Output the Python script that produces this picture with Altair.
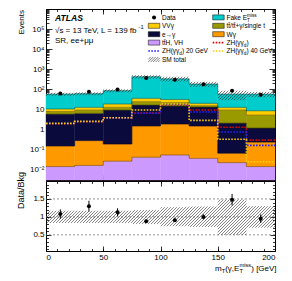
import math
import re
import altair as alt
import pandas as pd

# ---------------- values ----------------
bin_edges = [0, 25, 50, 75, 100, 125, 150, 175, 200]

tth_vh     = [0.014, 0.016, 0.026, 0.041, 0.053, 0.036, 0.022, 0.014]
w_gamma    = [0.135, 0.26, 0.16, 1.44, 1.8, 1.44, 0.043, 0.22]
e_to_gamma = [5.65, 6.0, 9.0, 14.9, 12.8, 11.6, 2.0, 0.94]
tt_gamma   = [2.0, 2.9, 3.4, 7.6, 6.8, 2.0, 7.1, 4.0]
vv_gamma   = [2.6, 3.4, 5.8, 11.5, 9.6, 4.8, 3.4, 3.3]
fake_met   = [46.6, 47.4, 66.6, 385.0, 299.0, 162.0, 44.4, 48.5]

data_obs = [62, 76, 97, 362, 300, 180, 84, 53]
data_err = [8, 9, 10, 19, 17, 13, 9, 7]

sig_zh   = [1.9, 2.4, 3.7, 6.6, 17.0, 9.2, 1.27, 0.29]
sig_zh20 = [1.95, 2.45, 3.75, 6.4, 17.5, 7.3, 0.74, 0.16]
sig_zh40 = [2.0, 2.5, 3.8, 9.2, 18.5, 2.8, 0.32, 0.024]

ratio_val = [1.08, 1.30, 1.13, 0.88, 0.91, 1.00, 1.48, 0.95]
ratio_err = [0.13, 0.15, 0.11, 0.05, 0.05, 0.07, 0.16, 0.12]
band_lo   = [0.83, 0.83, 0.83, 0.80, 0.74, 0.72, 0.50, 0.70]
band_hi   = [1.17, 1.17, 1.17, 1.19, 1.27, 1.29, 1.48, 1.30]

comp_names  = ["tt̄H, VH", "Wγ", "e→γ", "tt̄/tt̄+γ/single t", "VVγ", "Fake E_{T}^{miss}"]
comp_colors = ["#CC99FF", "#FF9900", "#0A0A3C", "#999900", "#FFCC00", "#00CCCC"]

y_tick_values = [1e-2, 1e-1, 1.0, 10.0, 1e2, 1e3, 1e4, 1e5]
y_tick_labels = ["10⁻²", "10⁻¹", "1", "10", "10²", "10³", "10⁴", "10⁵"]
r_tick_values = [0.5, 1.0, 1.5]
r_tick_labels = ["0.5", "1", "1.5"]
x_tick_values = [0, 50, 100, 150, 200]

# ---------------- layout ----------------
FONT = "Liberation Sans"
W, H = 229, 242
UP_H, R_TOP = 171, 172
Y_MIN, Y_MAX = 0.003, 1e6
R_MIN, R_MAX = 0.05, 2.0
NB = len(bin_edges) - 1

XS = alt.Scale(domain=[0, 200], range=[0, W], nice=False, zero=False)
YU = alt.Scale(type="log", domain=[Y_MIN, Y_MAX], range=[UP_H, 0], nice=False)
YR = alt.Scale(domain=[R_MIN, R_MAX], range=[H, R_TOP], nice=False, zero=False)

dummy = pd.DataFrame({"v": [1.0]})
dummy_x = pd.DataFrame({"v": [100.0]})

layers = []

# ---------------- stacked backgrounds ----------------
comps = [tth_vh, w_gamma, e_to_gamma, tt_gamma, vv_gamma, fake_met]
rows, step_rows = [], []
cum = [0.0] * NB
for k, (name, vals) in enumerate(zip(comp_names, comps)):
    tops = []
    for i in range(NB):
        lo = cum[i]
        hi = lo + vals[i]
        rows.append(dict(comp=name, x0=bin_edges[i], x1=bin_edges[i + 1],
                         lo=max(lo, Y_MIN), hi=hi))
        cum[i] = hi
        tops.append(hi)
    for i in range(NB + 1):
        step_rows.append(dict(comp=name, x=bin_edges[i], v=tops[min(i, NB - 1)]))
total = cum[:]

stack_df = pd.DataFrame(rows)
cscale = alt.Scale(domain=comp_names, range=comp_colors)
layers.append(alt.Chart(stack_df).mark_rect(strokeWidth=0.4).encode(
    x=alt.X("x0:Q", scale=XS, axis=None), x2="x1:Q",
    y=alt.Y("lo:Q", scale=YU, axis=None), y2="hi:Q",
    color=alt.Color("comp:N", scale=cscale, legend=None),
    stroke=alt.Stroke("comp:N", scale=cscale, legend=None)))
layers.append(alt.Chart(pd.DataFrame(step_rows)).mark_line(
    interpolate="step-after", color="black", strokeWidth=0.6, opacity=0.55).encode(
    x=alt.X("x:Q", scale=XS, axis=None),
    y=alt.Y("v:Q", scale=YU, axis=None), detail="comp:N"))


# ---------------- hatch helper ----------------
def hatch(x_lo, x_hi, v_lo, v_hi, to_px, from_px, step=3.0):
    segs = []
    boxes = []
    for a, b, lo, hi in zip(x_lo, x_hi, v_lo, v_hi):
        boxes.append((a * W / 200.0, b * W / 200.0, to_px(lo), to_px(hi)))
    cmin = min(Y0 - X1 for X0, X1, Y0, Y1 in boxes)
    cmax = max(Y1 - X0 for X0, X1, Y0, Y1 in boxes)
    for k in range(int(math.floor(cmin / step)) - 1, int(math.ceil(cmax / step)) + 2):
        c = k * step
        for X0, X1, Y0, Y1 in boxes:
            xa = max(X0, Y0 - c)
            xb = min(X1, Y1 - c)
            if xb > xa + 0.05:
                segs.append(dict(xa=xa * 200.0 / W, xb=xb * 200.0 / W,
                                 ya=from_px(xa + c), yb=from_px(xb + c)))
    return pd.DataFrame(segs)


LOG_SPAN = math.log10(Y_MAX / Y_MIN)
up_px = lambda v: (math.log10(v) - math.log10(Y_MIN)) * UP_H / LOG_SPAN
up_inv = lambda p: 10 ** (p * LOG_SPAN / UP_H + math.log10(Y_MIN))
r_px = lambda v: (v - R_MIN) * (H - R_TOP) / (R_MAX - R_MIN)
r_inv = lambda p: p * (R_MAX - R_MIN) / (H - R_TOP) + R_MIN

up_band = hatch(bin_edges[:-1], bin_edges[1:],
                [t * l for t, l in zip(total, band_lo)],
                [t * h for t, h in zip(total, band_hi)], up_px, up_inv)
layers.append(alt.Chart(up_band).mark_rule(color="#222", strokeWidth=0.6).encode(
    x=alt.X("xa:Q", scale=XS, axis=None), x2="xb:Q",
    y=alt.Y("ya:Q", scale=YU, axis=None), y2="yb:Q"))

# ---------------- signals ----------------
def step_df(vals):
    return pd.DataFrame({"x": bin_edges, "v": list(vals) + [vals[-1]]})

for vals, col in [(sig_zh, "#E00000"), (sig_zh20, "#2020FF"), (sig_zh40, "#FFCC00")]:
    layers.append(alt.Chart(step_df(vals)).mark_line(
        interpolate="step-after", color=col, strokeWidth=1.6, strokeDash=[1.6, 1.4]).encode(
        x=alt.X("x:Q", scale=XS, axis=None),
        y=alt.Y("v:Q", scale=YU, axis=None)))

# ---------------- data (upper) ----------------
centers = [(a + b) / 2 for a, b in zip(bin_edges[:-1], bin_edges[1:])]
dat_df = pd.DataFrame({"x": centers, "y": data_obs,
                       "lo": [d - e for d, e in zip(data_obs, data_err)],
                       "hi": [d + e for d, e in zip(data_obs, data_err)]})
layers.append(alt.Chart(dat_df).mark_rule(color="black", strokeWidth=1).encode(
    x=alt.X("x:Q", scale=XS, axis=None),
    y=alt.Y("lo:Q", scale=YU, axis=None), y2="hi:Q"))
layers.append(alt.Chart(dat_df).mark_point(filled=True, color="black", size=16, opacity=1).encode(
    x=alt.X("x:Q", scale=XS, axis=None),
    y=alt.Y("y:Q", scale=YU, axis=None)))

# ---------------- ratio panel ----------------
layers.append(alt.Chart(pd.DataFrame({"v": r_tick_values})).mark_rule(
    color="#777", strokeWidth=0.8, strokeDash=[2, 2]).encode(
    y=alt.Y("v:Q", scale=YR, axis=None)))
r_band = hatch(bin_edges[:-1], bin_edges[1:], band_lo, band_hi, r_px, r_inv)
layers.append(alt.Chart(r_band).mark_rule(color="#333", strokeWidth=0.6).encode(
    x=alt.X("xa:Q", scale=XS, axis=None), x2="xb:Q",
    y=alt.Y("ya:Q", scale=YR, axis=None), y2="yb:Q"))
rat_df = pd.DataFrame({"x": centers, "y": ratio_val,
                       "lo": [r - e for r, e in zip(ratio_val, ratio_err)],
                       "hi": [r + e for r, e in zip(ratio_val, ratio_err)]})
layers.append(alt.Chart(rat_df).mark_rule(color="black", strokeWidth=1).encode(
    x=alt.X("x:Q", scale=XS, axis=None),
    y=alt.Y("lo:Q", scale=YR, axis=None), y2="hi:Q"))
layers.append(alt.Chart(rat_df).mark_point(filled=True, color="black", size=16, opacity=1).encode(
    x=alt.X("x:Q", scale=XS, axis=None),
    y=alt.Y("y:Q", scale=YR, axis=None)))

# ---------------- axes (ticks inside, via offset axes) ----------------
def label_expr(vals, labels):
    parts = [f"abs(datum.value / {v!r} - 1) < 0.001 ? '{l}'" for v, l in zip(vals, labels)]
    return " : ".join(parts) + " : ''"

TICK = dict(grid=False, title=None, tickColor="black", tickWidth=0.8,
            domainColor="black", domainWidth=1)


def y_axis(scale, **kw):
    return alt.Chart(dummy).mark_rule(opacity=0).encode(
        y=alt.Y("v:Q", scale=scale, axis=alt.Axis(**TICK, **kw)))


def x_axis(**kw):
    return alt.Chart(dummy_x).mark_rule(opacity=0).encode(
        x=alt.X("v:Q", scale=XS, axis=alt.Axis(**TICK, **kw)))


y_minor = [m * 10.0 ** e for e in range(-3, 6) for m in range(2, 10)
           if Y_MIN <= m * 10.0 ** e <= Y_MAX]
r_minor = [round(0.1 * i, 2) for i in range(1, 20)]
x_minor = list(range(0, 201, 10))

# upper y
layers.append(y_axis(YU, orient="left", values=y_tick_values,
                     labelExpr=label_expr(y_tick_values, y_tick_labels),
                     ticks=False, domain=True, labelFont=FONT, labelFontSize=8,
                     labelColor="black", labelPadding=2))
layers.append(y_axis(YU, orient="right", offset=-W, values=y_tick_values, tickSize=6,
                     labels=False, domain=False))
layers.append(y_axis(YU, orient="right", offset=-W, values=y_minor, tickSize=3,
                     labels=False, domain=False))
layers.append(y_axis(YU, orient="left", offset=-W, values=y_tick_values, tickSize=6,
                     labels=False, domain=True))
layers.append(y_axis(YU, orient="left", offset=-W, values=y_minor, tickSize=3,
                     labels=False, domain=False))
# ratio y
layers.append(y_axis(YR, orient="left", values=r_tick_values,
                     labelExpr=label_expr(r_tick_values, r_tick_labels),
                     ticks=False, domain=True, labelFont=FONT, labelFontSize=8,
                     labelColor="black", labelPadding=2))
layers.append(y_axis(YR, orient="right", offset=-W, values=r_tick_values, tickSize=5,
                     labels=False, domain=False))
layers.append(y_axis(YR, orient="right", offset=-W, values=r_minor, tickSize=2.5,
                     labels=False, domain=False))
layers.append(y_axis(YR, orient="left", offset=-W, values=r_tick_values, tickSize=5,
                     labels=False, domain=True))
layers.append(y_axis(YR, orient="left", offset=-W, values=r_minor, tickSize=2.5,
                     labels=False, domain=False))
# x axes
layers.append(x_axis(orient="bottom", values=x_tick_values, format="d", ticks=False,
                     domain=True, labelFont=FONT, labelFontSize=8, labelColor="black",
                     labelPadding=2))
for orient, off, dom in [("top", -H, False), ("bottom", -(H - R_TOP), True),
                         ("top", -UP_H, True), ("bottom", -H, True)]:
    layers.append(x_axis(orient=orient, offset=off, values=x_tick_values, tickSize=5,
                         labels=False, domain=dom))
    layers.append(x_axis(orient=orient, offset=off, values=x_minor, tickSize=2.5,
                         labels=False, domain=False))

# ---------------- text helpers ----------------
CW = {' ': 0.278, '(': 0.333, ')': 0.333, ',': 0.278, '.': 0.278, '/': 0.278, '[': 0.278,
      ']': 0.278, '+': 0.584, '=': 0.584, '-': 0.333, 'A': 0.667, 'B': 0.667, 'D': 0.722,
      'E': 0.667, 'F': 0.611, 'G': 0.778, 'H': 0.722, 'L': 0.556, 'M': 0.833, 'R': 0.722,
      'S': 0.667, 'T': 0.611, 'V': 0.667, 'W': 0.944, 'Z': 0.611, 'a': 0.556, 'b': 0.556,
      'd': 0.556, 'e': 0.556, 'f': 0.278, 'g': 0.556, 'i': 0.222, 'k': 0.5, 'l': 0.222,
      'm': 0.833, 'n': 0.556, 'o': 0.556, 's': 0.5, 't': 0.278, 'v': 0.5, 'γ': 0.5,
      'μ': 0.576, '→': 1.0, '\u0304': 0.0, '√': 0.549}


def tw(s, size):
    return sum(CW.get(ch, 0.556) for ch in s) * size


def txt(s, x, y, size, **kw):
    props = dict(text=s, align="left", baseline="alphabetic", fontSize=size,
                 font=FONT, color="black")
    props.update(kw)
    return alt.Chart(dummy).mark_text(**props).encode(x=alt.value(x), y=alt.value(y))


def rich(s, x, y, size, **kw):
    toks = []
    for m in re.finditer(r"_\{([^}]*)\}|\^\{([^}]*)\}|[^_^]+", s):
        if m.group(1) is not None:
            toks.append((m.group(1), "sub"))
        elif m.group(2) is not None:
            toks.append((m.group(2), "sup"))
        else:
            toks.append((m.group(0), "norm"))
    out = []
    cx = x
    i = 0
    ss = size * 0.72
    while i < len(toks):
        t, k = toks[i]
        if k == "norm":
            out.append(txt(t, cx, y, size, **kw))
            cx += tw(t, size)
        elif k == "sub" and i + 1 < len(toks) and toks[i + 1][1] == "sup":
            t2 = toks[i + 1][0]
            out.append(txt(t, cx, y + 0.3 * size, ss, **kw))
            out.append(txt(t2, cx, y - 0.45 * size, ss, **kw))
            cx += max(tw(t, ss), tw(t2, ss))
            i += 1
        else:
            out.append(txt(t, cx, y + (0.3 * size if k == "sub" else -0.42 * size), ss, **kw))
            cx += tw(t, ss)
        i += 1
    return out

# ---------------- labels ----------------
layers.append(txt("ATLAS", 9, 11.7, 8.6, fontWeight="bold", fontStyle="italic"))
layers += rich("√s = 13 TeV, L = 139 fb^{-1}", 9, 23.5, 8)
layers.append(txt("SR, ee+μμ", 9, 33.5, 8))

layers.append(txt("Events", -24.5, 1, 8, angle=270, align="right", baseline="middle"))
layers.append(txt("Data/Bkg", -25, 163, 9, angle=270, align="right", baseline="middle"))
layers += rich("m_{T}(γ,E_{T}^{miss}) [GeV]", 169, 261.5, 8)

# ---------------- legend ----------------
leg_col1 = ["Data", "VVγ", "e→γ", "tt̄H, VH", "ZH(γγ_{d}) 20 GeV", "SM total"]
leg_col2 = ["Fake E_{T}^{miss}", "tt̄/tt̄+γ/single t", "Wγ", "ZH(γγ_{d})", "ZH(γγ_{d}) 40 GeV"]
LFS = 6.5
row_y = [8.4 + 8.4 * r for r in range(6)]
col_sym = [102.3, 166.7]
col_txt = [116.0, 180.5]
BOX_W, BOX_H = 11.5, 5.0

def box(x0, yc, color):
    return alt.Chart(dummy).mark_rect(color=color, stroke="black", strokeWidth=0.5).encode(
        x=alt.value(x0), x2=alt.value(x0 + BOX_W),
        y=alt.value(yc - BOX_H / 2), y2=alt.value(yc + BOX_H / 2))

def dotted(x0, yc, color):
    return alt.Chart(dummy).mark_rule(color=color, strokeWidth=1.6, strokeDash=[1.6, 1.4]).encode(
        x=alt.value(x0), x2=alt.value(x0 + BOX_W), y=alt.value(yc))

# col 1
layers.append(alt.Chart(dummy).mark_point(filled=True, color="black", size=16, opacity=1).encode(
    x=alt.value(col_sym[0] + BOX_W / 2), y=alt.value(row_y[0])))
layers.append(box(col_sym[0], row_y[1], comp_colors[4]))
layers.append(box(col_sym[0], row_y[2], comp_colors[2]))
layers.append(box(col_sym[0], row_y[3], comp_colors[0]))
layers.append(dotted(col_sym[0], row_y[4], "#2020FF"))
# hatched SM total symbol (pixel space)
hx0, hx1 = col_sym[0], col_sym[0] + BOX_W
hy0, hy1 = row_y[5] - BOX_H / 2, row_y[5] + BOX_H / 2
hrows = []
for k in range(-6, 12):
    c = hx0 + k * 2.5
    xa = max(hx0, c)
    xb = min(hx1, c + (hy1 - hy0))
    if xb > xa:
        hrows.append(dict(xa=xa, xb=xb, ya=hy1 - (xa - c), yb=hy1 - (xb - c)))
layers.append(alt.Chart(pd.DataFrame(hrows)).mark_rule(color="#222", strokeWidth=0.6).encode(
    x=alt.X("xa:Q", scale=None, axis=None), x2="xb:Q",
    y=alt.Y("ya:Q", scale=None, axis=None), y2="yb:Q"))
for r, lab in enumerate(leg_col1):
    layers += rich(lab, col_txt[0], row_y[r] + 2.3, LFS)
# col 2
layers.append(box(col_sym[1], row_y[0], comp_colors[5]))
layers.append(box(col_sym[1], row_y[1], comp_colors[3]))
layers.append(box(col_sym[1], row_y[2], comp_colors[1]))
layers.append(dotted(col_sym[1], row_y[3], "#E00000"))
layers.append(dotted(col_sym[1], row_y[4], "#FFCC00"))
for r, lab in enumerate(leg_col2):
    layers += rich(lab, col_txt[1], row_y[r] + 2.3, LFS)

chart = alt.layer(*layers).resolve_scale(x="independent", y="independent").properties(
    width=W, height=H,
    autosize=alt.AutoSizeParams(type="none"),
    padding={"left": 38, "top": 1, "right": 8, "bottom": 22},
).configure_view(stroke=None)

chart.save("out.html", embed_options={"renderer": "svg", "actions": False})
